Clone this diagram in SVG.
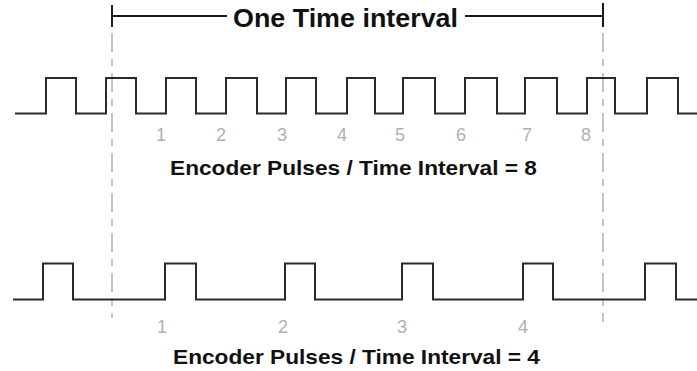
<svg xmlns="http://www.w3.org/2000/svg" width="697" height="371" viewBox="0 0 697 371">
<style>
.wave{fill:none;stroke:#2a2a2a;stroke-width:2}
.guide{fill:none;stroke:#c4c4c4;stroke-width:2;stroke-dasharray:19 7 7 7}
.bracket{fill:none;stroke:#1a1a1a;stroke-width:2}
.title{font-family:"Liberation Sans",Arial,sans-serif;font-weight:bold;fill:#111}
.num{font-family:"Liberation Sans",Arial,sans-serif;font-size:18px;fill:#b0b0b0;text-anchor:middle}
</style>
<rect width="697" height="371" fill="#fff"/>
<g id="connectors">
<path class="guide" d="M112,33 V318"/>
<path class="guide" d="M603,33 V322"/>
<path class="bracket" d="M112,5 V27 M112,16 H227 M465,16 H603 M603,3 V27"/>
</g>
<g id="interval-label">
<text class="title" x="233" y="27" font-size="26" textLength="225" lengthAdjust="spacingAndGlyphs">One Time interval</text>
</g>
<g id="wave-8">
<path class="wave" d="M15,113.5 H46 V78 H76 V113.5 H106 V78 H136 V113.5 H166 V78 H196 V113.5 H226 V78 H257 V113.5 H286 V78 H316 V113.5 H347 V78 H375 V113.5 H403 V78 H435 V113.5 H465 V78 H497 V113.5 H525 V78 H557 V113.5 H587 V78 H615 V113.5 H647 V78 H678 V113.5 H697"/>
<text class="num" x="161" y="141">1</text>
<text class="num" x="221" y="141">2</text>
<text class="num" x="282" y="141">3</text>
<text class="num" x="342" y="141">4</text>
<text class="num" x="400" y="141">5</text>
<text class="num" x="461" y="141">6</text>
<text class="num" x="527" y="141">7</text>
<text class="num" x="586" y="141">8</text>
<text class="title" x="170" y="175" font-size="21" textLength="367" lengthAdjust="spacingAndGlyphs">Encoder Pulses / Time Interval = 8</text>
</g>
<g id="wave-4">
<path class="wave" d="M13,299.5 H43 V263.5 H73 V299.5 H165 V263.5 H196 V299.5 H285 V263.5 H315 V299.5 H402 V263.5 H433 V299.5 H523 V263.5 H553 V299.5 H645 V263.5 H676 V299.5 H697"/>
<text class="num" x="162" y="333">1</text>
<text class="num" x="283" y="333">2</text>
<text class="num" x="402" y="333">3</text>
<text class="num" x="523" y="333">4</text>
<text class="title" x="173" y="364" font-size="21" textLength="367" lengthAdjust="spacingAndGlyphs">Encoder Pulses / Time Interval = 4</text>
</g>
</svg>
